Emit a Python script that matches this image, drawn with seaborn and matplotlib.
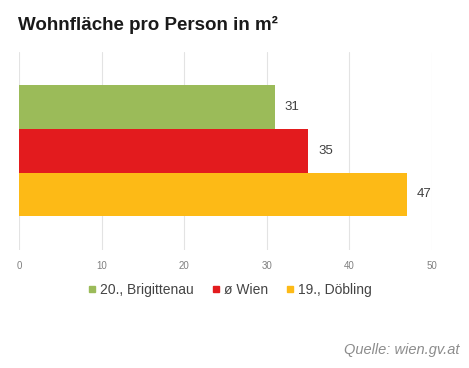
import matplotlib.pyplot as plt
import seaborn as sns
import pandas as pd

categories = ["20., Brigittenau", "ø Wien", "19., Döbling"]
values = [31, 35, 47]
colors = ["#9BBB59", "#E31B1E", "#FDBA16"]
x_ticks = [0, 10, 20, 30, 40, 50]

df = pd.DataFrame({"Bezirk": categories, "Fläche": values})

sns.set_style("white")
plt.rcParams["font.family"] = ["Liberation Sans", "DejaVu Sans"]

fig = plt.figure(figsize=(4.69, 3.68), dpi=100)
ax = fig.add_axes([0.0405, 0.321, 0.8805, 0.538])

sns.barplot(data=df, x="Fläche", y="Bezirk", hue="Bezirk", palette=colors,
            width=1.0, orient="h", ax=ax, legend=False, saturation=1,
            linewidth=0)

for i, v in enumerate(values):
    ax.text(v + 1.2, i, str(v), va="center", ha="left", fontsize=9.5, color="#404040")

ax.set_xlim(0, 50)
ax.set_ylim(3.27, -1.26)
ax.set_xticks(x_ticks)
ax.set_xticklabels([str(t) for t in x_ticks], fontsize=7, color="#808080")
ax.set_yticks([])
ax.set_xlabel("")
ax.set_ylabel("")
ax.tick_params(axis="x", length=0, pad=8)
ax.grid(axis="x", color="#E3E3E3", linewidth=0.8)
ax.set_axisbelow(True)
for s in ax.spines.values():
    s.set_visible(False)

handles = [plt.Line2D([], [], marker="s", linestyle="", color=c, markersize=5)
           for c in colors]
fig.legend(handles, categories, loc="center", bbox_to_anchor=(0.49, 0.212),
           ncol=3, frameon=False, fontsize=10, handlelength=0.6,
           handletextpad=0.25, columnspacing=1.3, labelcolor="#444444")

fig.text(0.038, 0.932, "Wohnfläche pro Person in m²", fontsize=13.5,
         fontweight="bold", color="#1A1A1A", va="center")
fig.text(0.979, 0.049, "Quelle: wien.gv.at", fontsize=10.5, style="italic",
         color="#8C8C8C", ha="right", va="center")

fig.savefig("out.png", dpi=100)
